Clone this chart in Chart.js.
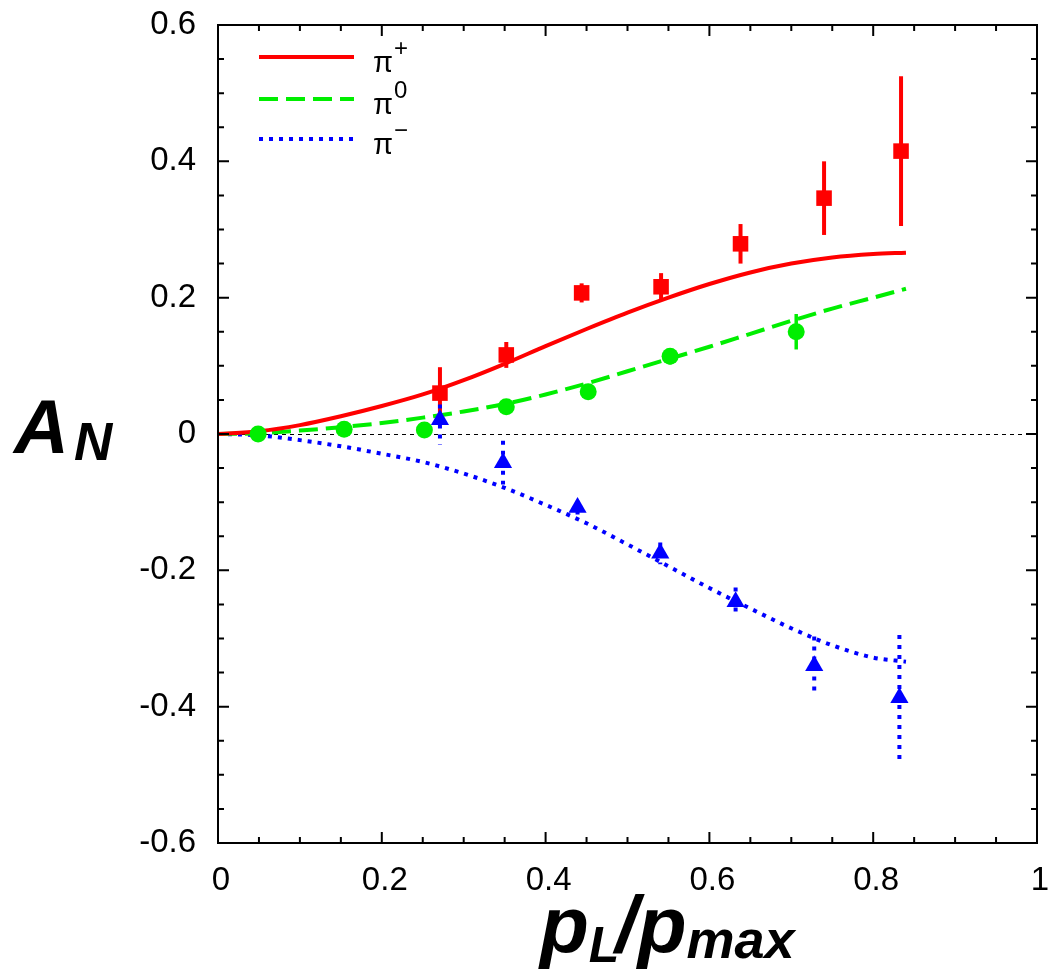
<!DOCTYPE html>
<html>
<head>
<meta charset="utf-8">
<script src="https://cdn.jsdelivr.net/npm/chart.js@4/dist/chart.umd.min.js"></script>
<style>
html,body{margin:0;padding:0;background:#fff;}
#c{display:block;}
</style>
</head>
<body>
<canvas id="c" width="1048" height="974"></canvas>
<script>
// ---------- data ----------
const piPlusX   = [0.271, 0.352, 0.444, 0.541, 0.638, 0.740, 0.834];
const piPlusY   = [0.060, 0.116, 0.207, 0.216, 0.279, 0.346, 0.415];
const piPlusErr = [0.038, 0.019, 0.014, 0.020, 0.029, 0.054, 0.110];

const piZeroX   = [0.049, 0.154, 0.252, 0.352, 0.452, 0.552, 0.706];
const piZeroY   = [0.000, 0.007, 0.006, 0.040, 0.062, 0.114, 0.150];
const piZeroErr = [0.004, 0.004, 0.004, 0.008, 0.008, 0.012, 0.026];

const piMinusX   = [0.271, 0.348, 0.439, 0.540, 0.632, 0.728, 0.832];
const piMinusY   = [0.021, -0.042, -0.108, -0.175, -0.246, -0.340, -0.387];
const piMinusErr = [0.037, 0.032, 0.010, 0.016, 0.021, 0.043, 0.092];

const curveX      = [0, 0.05, 0.10, 0.15, 0.20, 0.25, 0.30, 0.35, 0.40, 0.45, 0.50, 0.55, 0.60, 0.65, 0.70, 0.75, 0.80, 0.84];
const curvePlus   = [0, 0.004, 0.013, 0.026, 0.041, 0.058, 0.079, 0.103, 0.129, 0.154, 0.178, 0.200, 0.220, 0.237, 0.250, 0.259, 0.264, 0.266];
const curveZero   = [0, 0.001, 0.005, 0.010, 0.016, 0.024, 0.033, 0.044, 0.058, 0.074, 0.092, 0.110, 0.128, 0.147, 0.166, 0.184, 0.200, 0.213];
const curveMinus  = [0, -0.002, -0.009, -0.018, -0.029, -0.041, -0.058, -0.079, -0.104, -0.131, -0.162, -0.194, -0.226, -0.256, -0.285, -0.310, -0.328, -0.334];

const xTickValues = [0, 0.2, 0.4, 0.6, 0.8, 1];
const yTickValues = [-0.6, -0.4, -0.2, 0, 0.2, 0.4, 0.6];
const legendLabels = [['π', '+'], ['π', '0'], ['π', '−']];

const RED = '#ff0000', GREEN = '#00ee00', BLUE = '#0000ff';
const FONT = "'Liberation Sans', Arial, Helvetica, sans-serif";

const pts = (xs, ys) => xs.map((x, i) => ({x: x, y: ys[i]}));
const fmt = v => {
  const r = Math.round(v * 10) / 10;
  if (Math.abs(r) < 1e-9) return '0';
  if (Math.abs(r - Math.round(r)) < 1e-9) return String(Math.round(r));
  return r.toFixed(1);
};
const noPad = s => { s.paddingTop = 0; s.paddingBottom = 0; s.paddingLeft = 0; s.paddingRight = 0; };

const decor = {
  id: 'decor',
  beforeDatasetsDraw(chart) {
    const ctx = chart.ctx, xs = chart.scales.x, ys = chart.scales.y, a = chart.chartArea;
    ctx.save();
    ctx.beginPath(); ctx.rect(a.left, a.top, a.right - a.left, a.bottom - a.top); ctx.clip();
    // zero line
    ctx.strokeStyle = '#000'; ctx.lineWidth = 1; ctx.setLineDash([4, 4]);
    const y0 = Math.round(ys.getPixelForValue(0)) + 0.5;
    ctx.beginPath(); ctx.moveTo(a.left, y0); ctx.lineTo(a.right, y0); ctx.stroke();
    // error bars
    const bars = (X, Y, E, color, dash, w) => {
      ctx.strokeStyle = color; ctx.lineWidth = w; ctx.setLineDash(dash); ctx.lineCap = 'butt';
      X.forEach((x, i) => {
        const px = xs.getPixelForValue(x);
        ctx.beginPath();
        ctx.moveTo(px, ys.getPixelForValue(Y[i] + E[i]));
        ctx.lineTo(px, ys.getPixelForValue(Y[i] - E[i]));
        ctx.stroke();
      });
    };
    bars(piPlusX, piPlusY, piPlusErr, RED, [], 4);
    bars(piZeroX, piZeroY, piZeroErr, GREEN, [], 3.5);
    bars(piMinusX, piMinusY, piMinusErr, BLUE, [4, 6], 4);
    ctx.restore();
  },
  afterDraw(chart) {
    const ctx = chart.ctx, xs = chart.scales.x, ys = chart.scales.y, a = chart.chartArea;
    ctx.save();
    // frame
    ctx.strokeStyle = '#000'; ctx.lineWidth = 2; ctx.setLineDash([]);
    ctx.strokeRect(a.left, a.top, a.right - a.left, a.bottom - a.top);
    // inward ticks
    ctx.lineWidth = 2;
    ctx.beginPath();
    for (let i = 0; i <= 20; i++) {
      const v = i * 0.05, px = xs.getPixelForValue(v), L = (i % 4 === 0) ? 11 : 6;
      ctx.moveTo(px, a.bottom); ctx.lineTo(px, a.bottom - L);
      ctx.moveTo(px, a.top); ctx.lineTo(px, a.top + L);
    }
    for (let i = 0; i <= 24; i++) {
      const v = -0.6 + i * 0.05, py = ys.getPixelForValue(v), L = (i % 4 === 0) ? 11 : 6;
      ctx.moveTo(a.left, py); ctx.lineTo(a.left + L, py);
      ctx.moveTo(a.right, py); ctx.lineTo(a.right - L, py);
    }
    ctx.stroke();
    // legend
    const styles = [[RED, []], [GREEN, [19, 8]], [BLUE, [4, 6]]];
    const ly = [57, 99, 139];
    styles.forEach((s, i) => {
      ctx.strokeStyle = s[0]; ctx.lineWidth = 4; ctx.setLineDash(s[1]);
      ctx.beginPath(); ctx.moveTo(259, ly[i]); ctx.lineTo(354, ly[i]); ctx.stroke();
      ctx.setLineDash([]);
      ctx.fillStyle = '#000'; ctx.textBaseline = 'alphabetic'; ctx.textAlign = 'left';
      ctx.font = '29px ' + FONT;
      ctx.fillText(legendLabels[i][0], 373, ly[i] + 15);
      const w = ctx.measureText(legendLabels[i][0]).width;
      ctx.font = '24px ' + FONT;
      ctx.fillText(legendLabels[i][1], 373 + w + 1, ly[i] - 1);
    });
    // y title A_N
    ctx.fillStyle = '#000'; ctx.textAlign = 'left'; ctx.textBaseline = 'alphabetic';
    ctx.font = 'italic bold 76px ' + FONT;
    ctx.fillText('A', 14, 453);
    let wA = ctx.measureText('A').width;
    ctx.font = 'italic bold 53px ' + FONT;
    ctx.fillText('N', 14 + wA + 5, 460);
    // x title p_L/p_max
    let x = 540;
    const seg = [['p', 80, 952], ['L', 50, 962], ['/', 80, 952], ['p', 80, 952], ['max', 54, 958]];
    seg.forEach(s => {
      ctx.font = 'italic bold ' + s[1] + 'px ' + FONT;
      ctx.fillText(s[0], x, s[2]);
      x += ctx.measureText(s[0]).width + (s[0] === 'L' ? -4 : 0);
    });
    ctx.restore();
  }
};

new Chart(document.getElementById('c'), {
  type: 'scatter',
  data: {
    datasets: [
      { label: 'pi+ data', data: pts(piPlusX, piPlusY), pointStyle: 'rect', pointRadius: 11, pointHoverRadius: 11,
        backgroundColor: RED, borderColor: RED, borderWidth: 0, showLine: false, order: 1 },
      { label: 'pi0 data', data: pts(piZeroX, piZeroY), pointStyle: 'circle', pointRadius: 8.5, pointHoverRadius: 8.5,
        backgroundColor: GREEN, borderColor: GREEN, borderWidth: 0, showLine: false, order: 2 },
      { label: 'pi- data', data: pts(piMinusX, piMinusY), pointStyle: 'triangle', pointRadius: 10.5, pointHoverRadius: 10.5,
        backgroundColor: BLUE, borderColor: BLUE, borderWidth: 0, showLine: false, order: 3 },
      { label: 'pi+ theory', data: pts(curveX, curvePlus), showLine: true, pointRadius: 0, borderColor: RED,
        borderWidth: 4, cubicInterpolationMode: 'monotone', fill: false, order: 4 },
      { label: 'pi0 theory', data: pts(curveX, curveZero), showLine: true, pointRadius: 0, borderColor: GREEN,
        borderWidth: 4, borderDash: [19, 8], cubicInterpolationMode: 'monotone', fill: false, order: 5 },
      { label: 'pi- theory', data: pts(curveX, curveMinus), showLine: true, pointRadius: 0, borderColor: BLUE,
        borderWidth: 4, borderDash: [4, 6], cubicInterpolationMode: 'monotone', fill: false, order: 6 }
    ]
  },
  options: {
    responsive: false,
    animation: false,
    devicePixelRatio: 1,
    layout: { padding: { top: 25, right: 11, left: 0, bottom: 0 } },
    plugins: { legend: { display: false }, tooltip: { enabled: false } },
    scales: {
      x: {
        type: 'linear', min: 0, max: 1,
        afterBuildTicks: s => { s.ticks = xTickValues.map(v => ({value: v})); },
        afterFit: s => { s.height = 131; noPad(s); },
        grid: { display: false, drawTicks: false },
        border: { display: false },
        ticks: { font: { family: FONT, size: 33 }, color: '#000', padding: 18, labelOffset: 3,
                 maxRotation: 0, autoSkip: false, callback: v => fmt(v) }
      },
      y: {
        type: 'linear', min: -0.6, max: 0.6,
        afterBuildTicks: s => { s.ticks = yTickValues.map(v => ({value: v})); },
        afterFit: s => { s.width = 218; noPad(s); },
        grid: { display: false, drawTicks: false },
        border: { display: false },
        ticks: { font: { family: FONT, size: 33 }, color: '#000', padding: 22,
                 autoSkip: false, callback: v => fmt(v) }
      }
    }
  },
  plugins: [decor]
});
</script>
</body>
</html>
